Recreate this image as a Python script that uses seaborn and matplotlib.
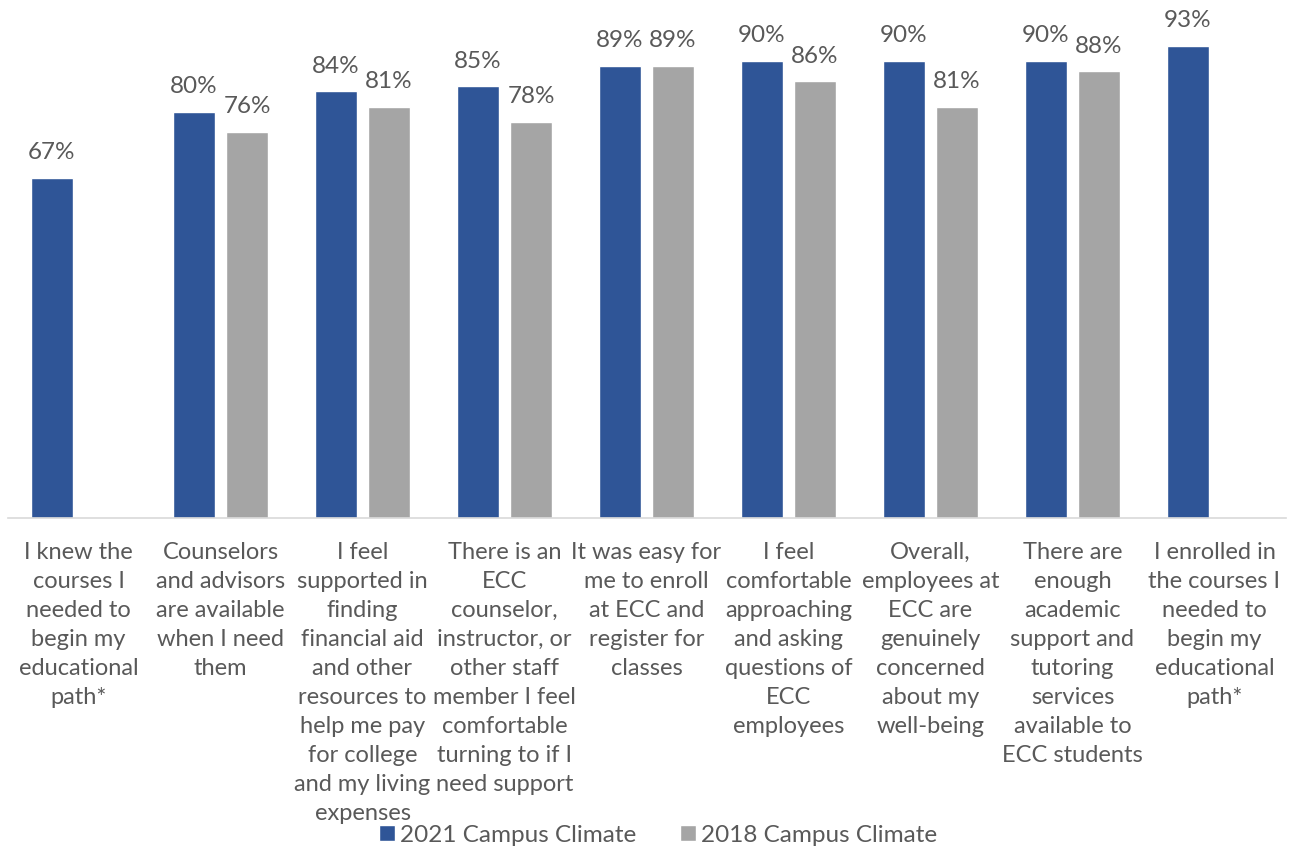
import matplotlib
matplotlib.use("Agg")
import matplotlib.pyplot as plt
import seaborn as sns
import pandas as pd
import numpy as np

categories = [
    "I knew the\ncourses I\nneeded to\nbegin my\neducational\npath*",
    "Counselors\nand advisors\nare available\nwhen I need\nthem",
    "I feel\nsupported in\nfinding\nfinancial aid\nand other\nresources to\nhelp me pay\nfor college\nand my living\nexpenses",
    "There is an\nECC\ncounselor,\ninstructor, or\nother staff\nmember I feel\ncomfortable\nturning to if I\nneed support",
    "It was easy for\nme to enroll\nat ECC and\nregister for\nclasses",
    "I feel\ncomfortable\napproaching\nand asking\nquestions of\nECC\nemployees",
    "Overall,\nemployees at\nECC are\ngenuinely\nconcerned\nabout my\nwell-being",
    "There are\nenough\nacademic\nsupport and\ntutoring\nservices\navailable to\nECC students",
    "I enrolled in\nthe courses I\nneeded to\nbegin my\neducational\npath*",
]
values_2021 = [67, 80, 84, 85, 89, 90, 90, 90, 93]
values_2018 = [np.nan, 76, 81, 78, 89, 86, 81, 88, np.nan]
series = ["2021 Campus Climate", "2018 Campus Climate"]
colors = ["#2F5597", "#A5A5A5"]

df = pd.DataFrame({
    "category": categories * 2,
    "value": values_2021 + values_2018,
    "series": [series[0]] * len(categories) + [series[1]] * len(categories),
})

sns.set_theme(style="white")
plt.rcParams["font.family"] = ["Lato", "DejaVu Sans"]
text_color = "#595959"

fig = plt.figure(figsize=(12.9, 8.5), dpi=100)
ax = fig.add_axes([7.5 / 1290, 1 - 518 / 850, 1278 / 1290, 518 / 850])

sns.barplot(data=df, x="category", y="value", hue="series", order=categories,
            hue_order=series, palette=colors, width=0.747, gap=0.21,
            saturation=1, ax=ax, legend=True)

for cont in ax.containers:
    ax.bar_label(cont, labels=[("" if np.isnan(v) else f"{v:.0f}%") for v in cont.datavalues],
                 padding=10.5, fontsize=17.5, color=text_color)

ax.set_ylim(0, 102)
ax.set_xlim(-0.5, len(categories) - 0.5)
ax.set_xlabel("")
ax.set_ylabel("")
ax.set_yticks([])
for s in ["top", "right", "left"]:
    ax.spines[s].set_visible(False)
ax.spines["bottom"].set_color("#D9D9D9")
ax.spines["bottom"].set_linewidth(1.2)
ax.tick_params(axis="x", length=0, pad=17, labelsize=17, labelcolor=text_color)
for lbl in ax.get_xticklabels():
    lbl.set_linespacing(1.475)
    lbl.set_verticalalignment("top")

handles, labels = ax.get_legend_handles_labels()
ax.legend(handles, labels, loc="center", bbox_to_anchor=(658 / 1290, 15 / 850), bbox_transform=fig.transFigure,
          ncol=2, frameon=False, fontsize=17.5, labelcolor=text_color,
          handlelength=0.65, handleheight=0.65, handletextpad=0.2, columnspacing=1.8)

fig.savefig("out.png", dpi=100)
